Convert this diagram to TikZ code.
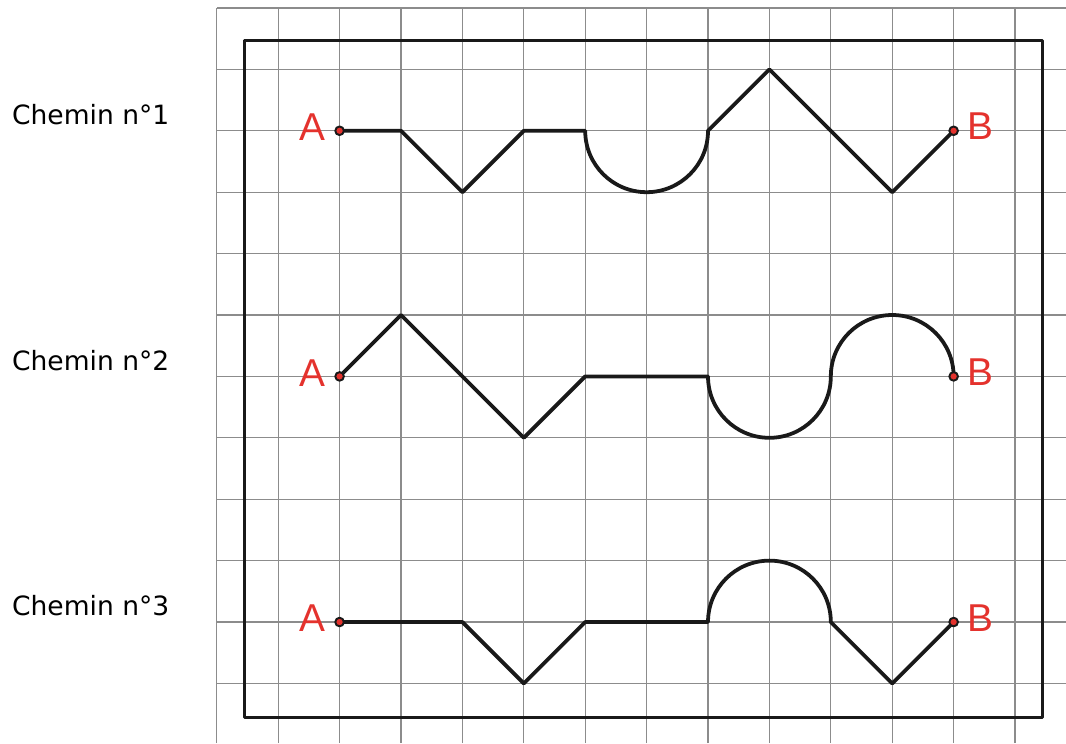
\documentclass[tikz,border=0pt]{standalone}
\usepackage{fontspec}
\setmainfont{DejaVu Sans}
\newfontfamily\lettres{Liberation Sans}
\definecolor{rougeAB}{RGB}{228,50,45}
\definecolor{quadrillage}{RGB}{140,140,140}
\begin{document}
\begin{tikzpicture}[line join=round,
  chemin/.style={line width=1.75pt, black!90},
  extremite/.style={circle, draw=black!90, fill=rougeAB, line width=0.9pt, inner sep=0pt, minimum size=1.4mm},
  lettre/.style={text=rougeAB, inner sep=0pt, font=\lettres\fontsize{18}{18}\selectfont},
  titre/.style={anchor=base west, inner sep=0pt, font=\fontsize{12.3}{14}\selectfont}]
\useasboundingbox (-3.53,0.03) rectangle (13.83,12.13);
% Quadrillage
\foreach \i in {0,...,13}
  \draw[quadrillage, line width=0.6pt] (\i,0.03) -- (\i,12);
\foreach \j in {1,...,12}
  \draw[quadrillage, line width=0.6pt] (0,\j) -- (13.83,\j);
% Cadre
\draw[line width=1.3pt, black!90] (0.45,0.44) rectangle (13.45,11.47);
% Extremites et titres
\foreach \y/\n in {10/1, 6/2, 2/3} {
  \coordinate (A\n) at (2,\y);
  \coordinate (B\n) at (12,\y);
  \node[titre] (titre\n) at (-3.34,\y+0.1) {Chemin n°\n};
}
% Chemin 1
\draw[chemin] (A1) -- (3,10) -- (4,9) -- (5,10) -- (6,10)
  arc[start angle=180, end angle=360, radius=1] -- (9,11) -- (11,9) -- (B1);
% Chemin 2
\draw[chemin] (A2) -- (3,7) -- (5,5) -- (6,6) -- (8,6)
  arc[start angle=180, end angle=360, radius=1]
  arc[start angle=180, end angle=0, radius=1] -- (B2);
% Chemin 3
\draw[chemin] (A3) -- (4,2) -- (5,1) -- (6,2) -- (8,2)
  arc[start angle=180, end angle=0, radius=1] -- (11,1) -- (B3);
% Points A et B
\foreach \n in {1,2,3} {
  \node[extremite] (pA\n) at (A\n) {};
  \node[extremite] (pB\n) at (B\n) {};
  \node[lettre, anchor=east] (lA\n) at ([xshift=-0.22cm, yshift=0.06cm]A\n) {A};
  \node[lettre, anchor=west] (lB\n) at ([xshift=0.22cm, yshift=0.07cm]B\n) {B};
}
\end{tikzpicture}
\end{document}
